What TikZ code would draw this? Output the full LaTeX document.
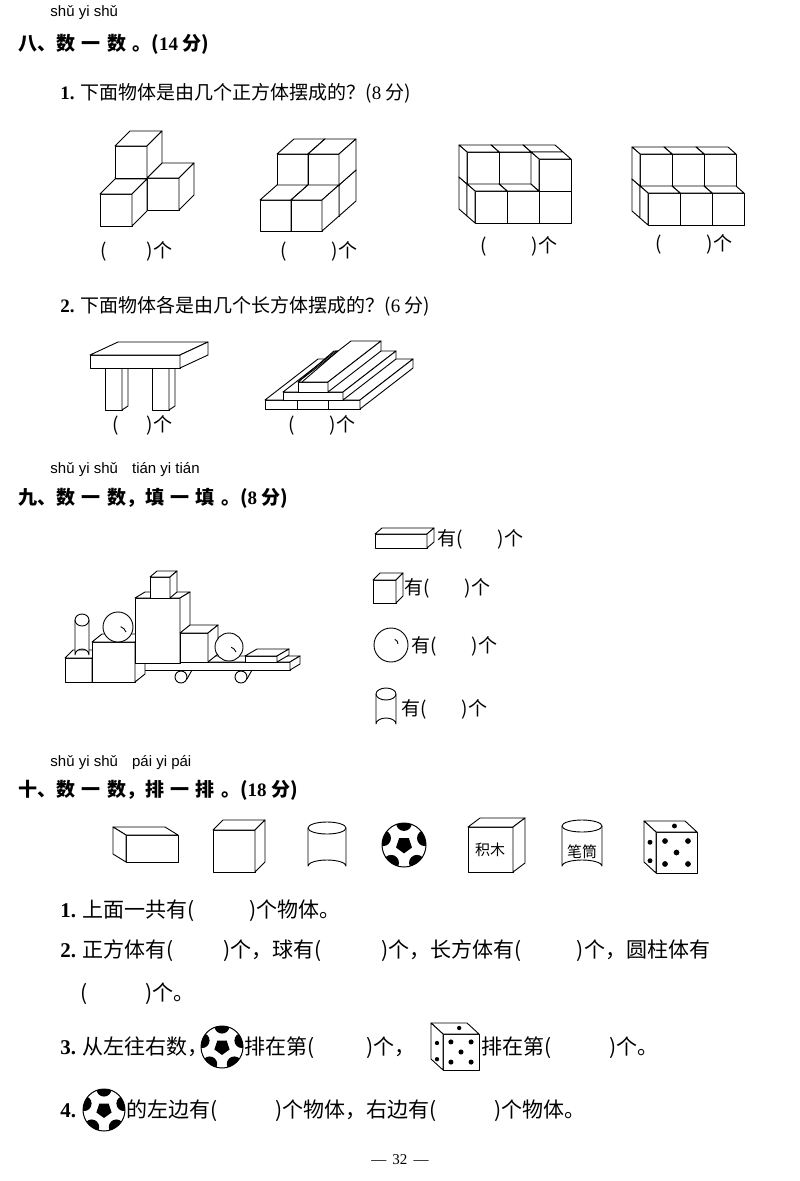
\documentclass[tikz,border=0pt]{standalone}
\usepackage{fontspec}
\setmainfont{Noto Sans CJK SC}
\newfontfamily\numf{Liberation Serif}
\newfontfamily\pyf{Liberation Sans}
\newcommand\bxR[6]{% x y w h dx dy
 \filldraw[fill=white] (#1,#2) rectangle ++(#3,-#4);
 \filldraw[fill=white] (#1,#2-#4) -- ++(#5,-#6) -- ++(#3,0) -- ++(-#5,#6) -- cycle;
 \filldraw[fill=white] (#1+#3,#2) -- ++(#5,-#6) -- ++(0,-#4) -- ++(-#5,#6) -- cycle;}
\newcommand\bxL[6]{%
 \filldraw[fill=white] (#1,#2) rectangle ++(#3,-#4);
 \filldraw[fill=white] (#1,#2-#4) -- ++(-#5,-#6) -- ++(#3,0) -- ++(#5,#6) -- cycle;
 \filldraw[fill=white] (#1,#2) -- ++(-#5,-#6) -- ++(0,-#4) -- ++(#5,#6) -- cycle;}
\newcommand\cyl[4]{% cx top bottom rx
 \filldraw[fill=white] (#1-#4,#2) -- (#1-#4,#3) arc[start angle=180,end angle=360,x radius=#4,y radius=6] -- (#1+#4,#2);
 \draw (#1,#2) ellipse[x radius=#4,y radius=6];}
\newcommand\ball[3]{% cx cy r
 \begin{scope}
 \clip (#1,#2) circle[radius=#3];
 \fill (#1,#2) ++(90:0.38*#3) \foreach \k in {1,...,4}{ -- ($(#1,#2)+(90+72*\k:0.38*#3)$)} -- cycle;
 \foreach \k in {0,...,4}{
  \fill ($(#1,#2)+(270+72*\k:1.0*#3)$) circle[radius=0.36*#3];}
 \end{scope}
 \draw[line width=1pt] (#1,#2) circle[radius=#3];}
\newcommand\dice[3]{% x y(front bottom left) w
 \bxL{#1}{#2}{#3}{#3}{12}{11}
 \foreach \a/\b in {0.22/0.22,0.78/0.22,0.5/0.5,0.22/0.78,0.78/0.78}{\fill (#1+\a*#3,#2-\b*#3) circle[radius=0.07*#3];}
 \fill (#1-6,#2-0.3*#3) circle[radius=0.06*#3];
 \fill (#1-6,#2-0.75*#3) circle[radius=0.06*#3];
 \fill (#1+0.45*#3,#2-#3-6) circle[radius=0.06*#3];}
\usetikzlibrary{calc}
\begin{document}
\begin{tikzpicture}[x=1pt,y=-1pt,line width=0.9pt,line join=round,
 txt/.style={anchor=base west,inner sep=0pt,font=\fontsize{19}{22}\selectfont},
 big/.style={anchor=base west,inner sep=0pt,font=\fontsize{21}{24}\selectfont},
 ttl/.style={anchor=base west,inner sep=0pt,font=\fontsize{19}{22}\selectfont\bfseries},
 py/.style={anchor=base west,inner sep=0pt,font=\fontsize{15}{18}\pyf}]
\useasboundingbox (0,0) rectangle (800,1181);
\fill[white] (0,0) rectangle (800,1181);
% ---- 八
\node[py] (p1) at (50,16) {shǔ yi shǔ};
\node[ttl] (t8) at (18,50) {八、数\,\,一\,\,数\,\,。({\numf 14} 分)};
\node[txt] (q81) at (60,99) {{\numf\bfseries 1.} 下面物体是由几个正方体摆成的？({\numf 8} 分)};
% fig1
\bxR{115}{210}{32}{32}{15}{15}
\bxR{147}{210}{32}{32}{15}{15}
\bxR{115}{178}{32}{32}{15}{15}
\bxR{100}{226}{32}{32}{15}{15}
% fig2
\bxR{277}{216}{31}{31}{17}{15}\bxR{308}{216}{31}{31}{17}{15}
\bxR{277}{185}{31}{31}{17}{15}\bxR{308}{185}{31}{31}{17}{15}
\bxR{260}{231}{31}{31}{17}{15}\bxR{291}{231}{31}{31}{17}{15}
% fig3
\foreach \yy in {216,184}{\foreach \xx in {531,499,467}{\bxL{\xx}{\yy}{32}{32}{8}{7}}}
\foreach \xx in {539,507,475}{\bxL{\xx}{223}{32}{32}{8}{7}}
\bxL{539}{191}{32}{32}{8}{7}
% fig4
\foreach \yy in {218,186}{\foreach \xx in {704,672,640}{\bxL{\xx}{\yy}{32}{32}{8}{7}}}
\foreach \xx in {712,680,648}{\bxL{\xx}{225}{32}{32}{8}{7}}
\node[txt] (a1) at (100,257) {(\hspace{40pt})个};
\node[txt] (a2) at (280,257) {(\hspace{45pt})个};
\node[txt] (a3) at (480,252) {(\hspace{45pt})个};
\node[txt] (a4) at (655,250) {(\hspace{45pt})个};
\node[txt] (q82) at (60,312) {{\numf\bfseries 2.} 下面物体各是由几个长方体摆成的？({\numf 6} 分)};
% table
\bxR{105}{410}{17}{42}{6}{4}
\bxR{152}{410}{17}{42}{6}{4}
\bxR{90}{368}{90}{13}{28}{13}
% stairs
\bxR{265}{409}{95}{9}{53}{41}
\draw (297,409) -- (297,400) (328,409) -- (328,400);
\bxR{283}{400}{60}{8}{53}{41}
\bxR{298}{392}{30}{10}{53}{41}
\draw (298,382) -- (334,351) -- (338,351) -- (302,382);
\node[txt] (b1) at (112,431) {(\hspace{28pt})个};
\node[txt] (b2) at (288,431) {(\hspace{35pt})个};
% ---- 九
\node[py] (p2) at (50,473) {shǔ yi shǔ\hspace{10pt} tián yi tián};
\node[ttl] (t9) at (18,504) {九、数\,\,一\,\,数，填\,\,一\,\,填\,\,。({\numf 8} 分)};
\bxR{375}{548}{52}{14}{7}{6}
\node[txt] (c1) at (437,545) {有(\hspace{35pt})个};
\bxR{373}{603}{23}{23}{7}{7}
\node[txt] (c2) at (404,594) {有(\hspace{35pt})个};
\draw (391,645) circle[radius=17];
\draw (398,644) arc[start angle=0,end angle=-70,radius=5];
\node[txt] (c3) at (411,652) {有(\hspace{35pt})个};
\cyl{386}{694}{724}{10}
\node[txt] (c4) at (401,715) {有(\hspace{35pt})个};
% scene
\draw (181,677) circle[radius=6]; \draw (187,679) -- (192,670);
\draw (241,677) circle[radius=6]; \draw (247,679) -- (252,670);
\bxR{135}{670}{155}{8}{10}{6}
\bxR{65}{682}{27}{24}{8}{8}
\cyl{82}{620}{655}{7}
\bxR{92}{682}{43}{40}{10}{8}
\draw[fill=white] (118,627) circle[radius=15]; \draw (126,632) arc[start angle=-20,end angle=-70,radius=9];
\bxR{135}{663}{45}{65}{10}{6}
\bxR{150}{598}{20}{21}{7}{6}
\bxR{180}{662}{28}{29}{10}{8}
\draw[fill=white] (229,647) circle[radius=14]; \draw (236,652) arc[start angle=-20,end angle=-70,radius=8];
\bxR{245}{662}{32}{6}{12}{7}
% ---- 十
\node[py] (p3) at (50,766) {shǔ yi shǔ\hspace{10pt} pái yi pái};
\node[ttl] (t10) at (18,796) {十、数\,\,一\,\,数，排\,\,一\,\,排\,\,。({\numf 18} 分)};
\bxL{126}{862}{52}{27}{13}{8}
\bxR{213}{872}{42}{42}{10}{10}
\cyl{327}{828}{866}{19}
\ball{404}{845}{22}
\bxR{468}{872}{45}{45}{12}{9}
\node[inner sep=0pt,font=\fontsize{15}{16}\selectfont] (jm) at (490,850) {积木};
\cyl{582}{826}{866}{20}
\node[inner sep=0pt,font=\fontsize{15}{16}\selectfont] (bt) at (582,852) {笔筒};
\dice{656}{873}{41}
\node[big] (l1) at (60,917) {{\numf\bfseries 1.} 上面一共有(\hspace{55pt})个物体。};
\node[big] (l2) at (60,957) {{\numf\bfseries 2.} 正方体有(\hspace{50pt})个，球有(\hspace{60pt})个，长方体有(\hspace{55pt})个，圆柱体有};
\node[big] (l2b) at (80,1000) {(\hspace{58pt})个。};
\node[big] (l3) at (60,1054) {{\numf\bfseries 3.} 从左往右数，};
\ball{222}{1047}{21}
\node[big] (l3b) at (244,1054) {排在第(\hspace{52pt})个，};
\dice{443}{1070}{36}
\node[big] (l3c) at (481,1054) {排在第(\hspace{58pt})个。};
\node[big] (l4) at (60,1117) {{\numf\bfseries 4.}};
\ball{104}{1110}{21}
\node[big] (l4b) at (126,1117) {的左边有(\hspace{58pt})个物体，右边有(\hspace{58pt})个物体。};
\node[inner sep=0pt,font=\fontsize{15}{18}\numf] (pg) at (400,1160) {— \,32\, —};
\end{tikzpicture}
\end{document}
